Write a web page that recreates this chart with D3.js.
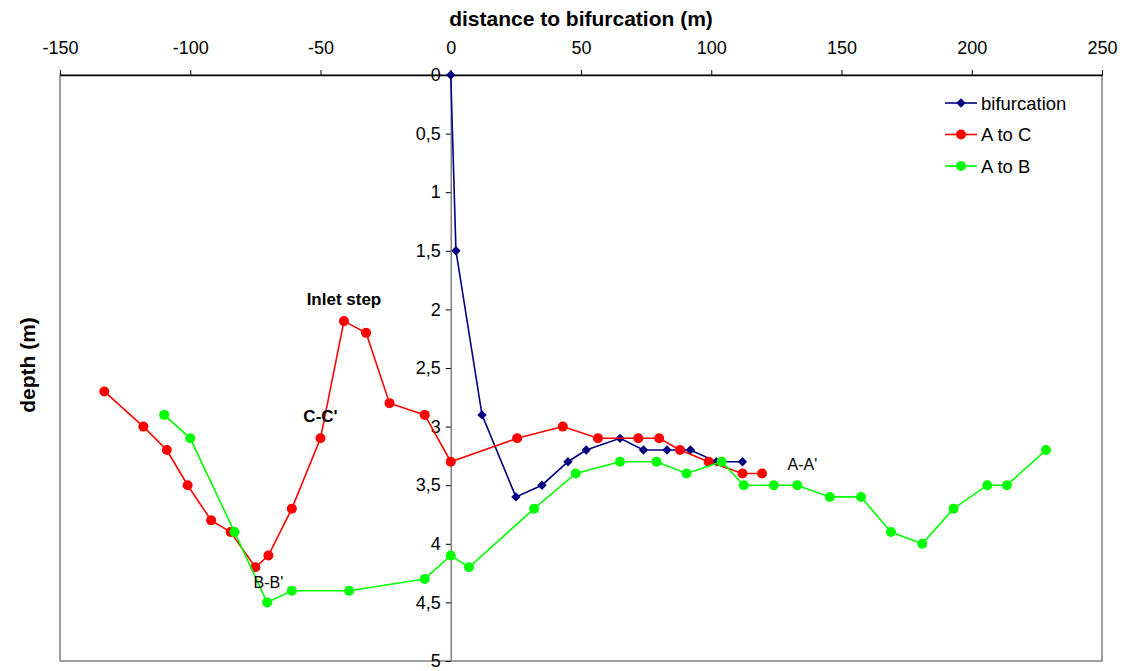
<!DOCTYPE html>
<html>
<head>
<meta charset="utf-8">
<script src="https://cdn.jsdelivr.net/npm/d3@7"></script>
<style>
  html, body { margin: 0; padding: 0; background: #fff; }
  svg { display: block; font-family: "Liberation Sans", Arial, sans-serif; }
</style>
</head>
<body>
<svg id="chart" width="1127" height="671"></svg>
<script>
// Longitudinal bed profiles around the bifurcation
const bifurcationDist  = [0, 2, 12, 25, 35, 45, 52, 65, 74, 83, 92, 102, 112];
const bifurcationDepth = [0, 1.5, 2.9, 3.6, 3.5, 3.3, 3.2, 3.1, 3.2, 3.2, 3.2, 3.3, 3.3];

const aToCDist  = [-133, -118, -109, -101, -92, -84.5, -75, -70, -61, -50, -41, -32.5, -23.5, -10, 0,
                   25.5, 43, 56.5, 72, 80, 88, 99, 112, 119.5];
const aToCDepth = [2.7, 3.0, 3.2, 3.5, 3.8, 3.9, 4.2, 4.1, 3.7, 3.1, 2.1, 2.2, 2.8, 2.9, 3.3,
                   3.1, 3.0, 3.1, 3.1, 3.1, 3.2, 3.3, 3.4, 3.4];

const aToBDist  = [-110, -100, -83, -70.5, -61, -39, -10, 0, 7, 32, 48, 65, 79, 90.5, 104,
                   112.5, 124, 133, 145.5, 157.5, 169, 181, 193, 206, 213.5, 228.5];
const aToBDepth = [2.9, 3.1, 3.9, 4.5, 4.4, 4.4, 4.3, 4.1, 4.2, 3.7, 3.4, 3.3, 3.3, 3.4, 3.3,
                   3.5, 3.5, 3.5, 3.6, 3.6, 3.9, 4.0, 3.7, 3.5, 3.5, 3.2];

const xTicks = [-150, -100, -50, 0, 50, 100, 150, 200, 250];
const yTicks = [0, 0.5, 1, 1.5, 2, 2.5, 3, 3.5, 4, 4.5, 5];

const seriesNames = ["bifurcation", "A to C", "A to B"];

// Section labels centred at (distance, depth)
const noteText   = ["Inlet step", "C-C'", "B-B'", "A-A'"];
const noteDist   = [-41, -50, -70, 135];
const noteDepth  = [1.91, 2.91, 4.33, 3.32];
const noteBold   = [true, true, false, false];

const series = [
  { name: seriesNames[0], x: bifurcationDist, y: bifurcationDepth, color: "#000080", marker: "diamond" },
  { name: seriesNames[1], x: aToCDist, y: aToCDepth, color: "#ff0000", marker: "circle" },
  { name: seriesNames[2], x: aToBDist, y: aToBDepth, color: "#00ff00", marker: "circle" }
];

const svg = d3.select("#chart");
const plotLeft = 60, plotRight = 1102, plotTop = 75, plotBottom = 661;

const x = d3.scaleLinear().domain([-150, 250]).range([plotLeft, plotRight]);
const y = d3.scaleLinear().domain([0, 5]).range([plotTop, plotBottom]);

const commaLocale = d3.formatLocale({ decimal: ",", thousands: ".", grouping: [3], currency: ["", ""], minus: "-" });
const fmtX = commaLocale.format("d");
const fmtY = commaLocale.format("~g");

const FONT = "Liberation Sans, Arial, sans-serif";

// Plot frame
svg.append("rect")
  .attr("x", plotLeft).attr("y", plotTop)
  .attr("width", plotRight - plotLeft).attr("height", plotBottom - plotTop)
  .attr("fill", "none").attr("stroke", "#808080").attr("stroke-width", 1.5);

// Top distance axis
const xAxis = svg.append("g")
  .attr("transform", `translate(0,${plotTop})`)
  .call(d3.axisTop(x).tickValues(xTicks).tickSize(5).tickSizeOuter(0).tickFormat(fmtX));
xAxis.select(".domain").attr("stroke", "#000").attr("stroke-width", 1.5);
xAxis.selectAll(".tick line").attr("stroke", "#000");
xAxis.selectAll(".tick text")
  .attr("font-size", 18).attr("fill", "#000")
  .attr("font-family", FONT)
  .attr("y", -21).attr("dy", 0);

// Vertical depth axis through distance 0
const yAxis = svg.append("g")
  .attr("transform", `translate(${x(0)},0)`)
  .call(d3.axisLeft(y).tickValues(yTicks).tickSize(5).tickSizeOuter(0).tickFormat(fmtY));
yAxis.select(".domain").attr("stroke", "#808080").attr("stroke-width", 1.5);
yAxis.selectAll(".tick line").attr("stroke", "#000");
yAxis.selectAll(".tick text")
  .attr("font-size", 18).attr("fill", "#000")
  .attr("font-family", FONT)
  .attr("x", -10);

// Axis titles
svg.append("text")
  .attr("x", 581).attr("y", 26)
  .attr("text-anchor", "middle")
  .attr("font-size", 21).attr("font-weight", "bold")
  .text("distance to bifurcation (m)");

svg.append("text")
  .attr("transform", "translate(35,365) rotate(-90)")
  .attr("text-anchor", "middle")
  .attr("font-size", 21).attr("font-weight", "bold")
  .text("depth (m)");

const line = d3.line().x(d => x(d[0])).y(d => y(d[1]));
const diamond = d3.symbol().type(d3.symbolDiamond2).size(56);

function drawMarker(g, m, color, cx, cy) {
  if (m === "diamond") {
    g.append("path").attr("d", diamond).attr("transform", `translate(${cx},${cy})`).attr("fill", color);
  } else {
    g.append("circle").attr("cx", cx).attr("cy", cy).attr("r", 5).attr("fill", color);
  }
}

series.forEach(s => {
  const pts = s.x.map((d, i) => [d, s.y[i]]);
  const g = svg.append("g");
  g.append("path").datum(pts)
    .attr("d", line).attr("fill", "none")
    .attr("stroke", s.color).attr("stroke-width", 1.6);
  pts.forEach(p => drawMarker(g, s.marker, s.color, x(p[0]), y(p[1])));
});

// Section annotations
noteText.forEach((t, i) => {
  svg.append("text")
    .attr("x", x(noteDist[i])).attr("y", y(noteDepth[i]))
    .attr("dy", "0.36em")
    .attr("text-anchor", "middle")
    .attr("font-size", noteBold[i] ? 17 : 16)
    .attr("font-weight", noteBold[i] ? "bold" : "normal")
    .attr("fill", "#000")
    .text(t);
});

// Legend
const legend = svg.append("g");
series.forEach((s, i) => {
  const ly = 103 + i * 31.5;
  legend.append("line").attr("x1", 945).attr("x2", 977).attr("y1", ly).attr("y2", ly)
    .attr("stroke", s.color).attr("stroke-width", 1.6);
  drawMarker(legend, s.marker, s.color, 961, ly);
  legend.append("text").attr("x", 981).attr("y", ly).attr("dy", "0.36em")
    .attr("font-size", 18.5).attr("fill", "#000").text(s.name);
});
</script>
</body>
</html>
